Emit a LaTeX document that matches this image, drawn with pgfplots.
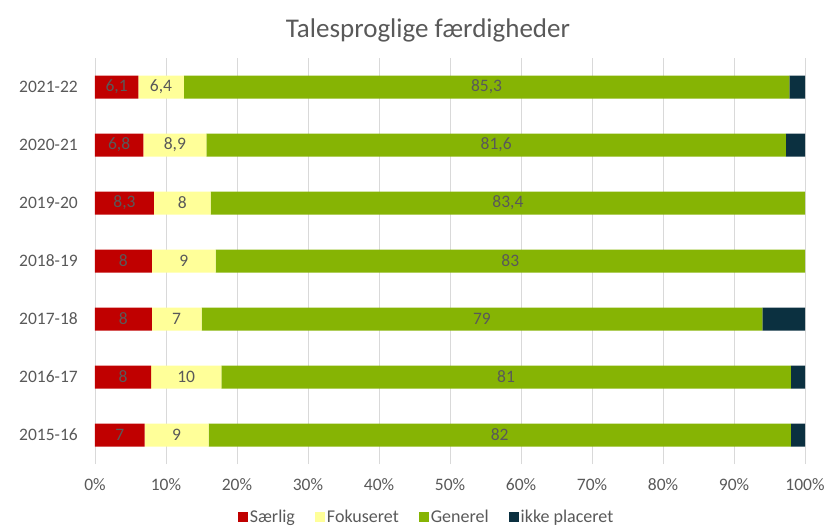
\documentclass[border=0pt]{standalone}
\usepackage{pgfplots}
\pgfplotsset{compat=1.18}
\usepackage{pgfplotstable}
\usepackage{fontspec}
\setmainfont{Carlito}
\definecolor{cred}{HTML}{C00000}
\definecolor{cyel}{HTML}{FFFF99}
\definecolor{cgrn}{HTML}{86B404}
\definecolor{cdark}{HTML}{0B3040}
\definecolor{txt}{HTML}{595959}
\definecolor{gridc}{HTML}{D9D9D9}

% c: 0 = 2015-16 ... 6 = 2021-22
% r,y,g,d = bar widths (Særlig, Fokuseret, Generel, ikke placeret); lr,ly,lg = printed labels
\pgfplotstableread{
c r   y   g    d   lr  ly  lg
0 7   9   82   2   7   9   82
1 7.9 9.9 80.2 2   8   10  81
2 8   7   79   6   8   7   79
3 8   9   83   0   8   9   83
4 8.3 8   83.7 0   8.3 8   83.4
5 6.8 8.9 81.6 2.7 6.8 8.9 81.6
6 6.1 6.4 85.3 2.2 6.1 6.4 85.3
}\data

\newcommand{\fs}{\fontsize{17.5}{20}\selectfont}
\pgfplotsset{
  common/.style={
    scale only axis,
    width=710pt, height=406pt,
    xmin=0, xmax=100,
    ymin=-0.5, ymax=6.5,
  },
  lab/.style={only marks, mark=none, point meta=explicit,
    nodes near coords={\pgfmathprintnumber[use comma, assume math mode=true]{\pgfplotspointmeta}},
    every node near coord/.append style={anchor=center, font=\fs, color=txt}},
}

\begin{document}
\begin{tikzpicture}
\useasboundingbox (-95pt,-63pt) rectangle (729pt,464pt);
\begin{axis}[
  common,
  xbar stacked,
  bar width=23pt,
  xtick={0,10,...,100},
  xticklabels={0\%,10\%,20\%,30\%,40\%,50\%,60\%,70\%,80\%,90\%,100\%},
  ytick={0,...,6},
  yticklabels={2015-16,2016-17,2017-18,2018-19,2019-20,2020-21,2021-22},
  xmajorgrids,
  grid style={gridc, line width=0.8pt},
  axis line style={draw=none},
  major tick style={draw=none},
  tick label style={font=\fs, color=txt},
  yticklabel style={anchor=east, inner sep=0pt, xshift=-17pt},
  xticklabel style={anchor=center, inner sep=0pt, yshift=-21pt},
  title={Talesproglige færdigheder},
  title style={at={(0.469,1)}, anchor=center, yshift=22pt, font=\fontsize{27}{31}\selectfont, color=txt},
  legend columns=4,
  legend style={at={(0.467,-0.1305)}, anchor=center, draw=none, fill=none,
    font=\fontsize{18}{20}\selectfont, text=txt, inner sep=0pt,
    /tikz/every even column/.append style={column sep=18pt},
    nodes={inner sep=2pt}},
  legend image code/.code={\fill[#1] (0pt,-5pt) rectangle (10pt,5pt);},
]
\addplot[fill=cred, draw=none] table[x=r, y=c] {\data};
\addlegendentry{Særlig}
\addplot[fill=cyel, draw=none] table[x=y, y=c] {\data};
\addlegendentry{Fokuseret}
\addplot[fill=cgrn, draw=none] table[x=g, y=c] {\data};
\addlegendentry{Generel}
\addplot[fill=cdark, draw=none] table[x=d, y=c] {\data};
\addlegendentry{ikke placeret}
\end{axis}
\begin{axis}[common, hide axis]
\addplot[lab] table[x expr=\thisrow{r}/2, y=c, meta=lr] {\data};
\addplot[lab] table[x expr=\thisrow{r}+\thisrow{y}/2, y=c, meta=ly] {\data};
\addplot[lab] table[x expr=\thisrow{r}+\thisrow{y}+\thisrow{g}/2, y=c, meta=lg] {\data};
\end{axis}
\end{tikzpicture}
\end{document}
